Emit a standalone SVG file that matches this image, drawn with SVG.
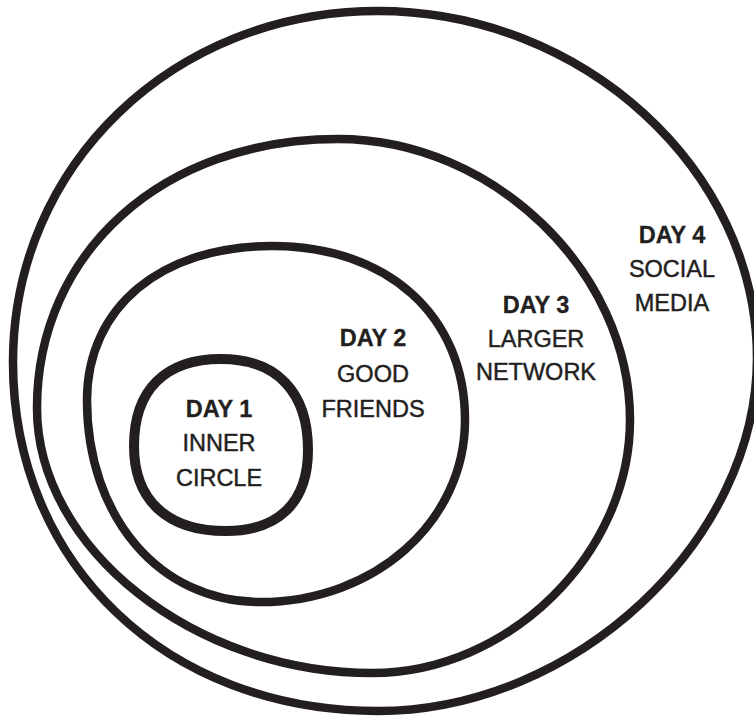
<svg xmlns="http://www.w3.org/2000/svg" width="754" height="717" viewBox="0 0 754 717">
<style>
.ring{fill:none;stroke:#231f20;stroke-width:8.5}
.core{fill:none;stroke:#231f20;stroke-width:10}
text{font-family:"Liberation Sans",Arial,sans-serif;font-size:23.5px;fill:#231f20;text-anchor:middle;stroke:#231f20;stroke-width:0.45}
.b{font-weight:bold;stroke-width:0.3}
</style>
<rect width="754" height="717" fill="#fff"/>
<g id="day4">
<path class="ring" d="M378,11 C582.7,11 757,170 757,358 C757,541 575,711 378,711 C166.3,711 13,564 13,362 C13,165 173.6,11 378,11 Z"/>
<text class="b" x="672" y="243">DAY 4</text>
<text x="672" y="277">SOCIAL</text>
<text x="672" y="311">MEDIA</text>
</g>
<g id="day3">
<path class="ring" d="M338,139 C492.8,139 630,271 630,420 C630,554 508.7,673 372,673 C194.4,673 37,548.5 37,408 C37,252 163.4,139 338,139 Z"/>
<text class="b" x="536" y="313">DAY 3</text>
<text x="536" y="347">LARGER</text>
<text x="536" y="380">NETWORK</text>
</g>
<g id="day2">
<path class="ring" d="M272,246 C387.8,246 465,315.6 465,420 C465,521.9 374.8,602 260,602 C159.7,602 87,517.2 87,400 C87,307.6 161,246 272,246 Z"/>
<text class="b" x="373" y="346">DAY 2</text>
<text x="373" y="382">GOOD</text>
<text x="373" y="417">FRIENDS</text>
</g>
<g id="day1">
<path class="core" d="M221,359 C276.7,359 308,392 308,450 C308,502 279,531 226,531 C167,531 134,500 134,446 C134,390 165,359 221,359 Z"/>
<text class="b" x="219" y="417">DAY 1</text>
<text x="219" y="451">INNER</text>
<text x="219" y="486">CIRCLE</text>
</g>
<g id="connectors"></g>
</svg>
